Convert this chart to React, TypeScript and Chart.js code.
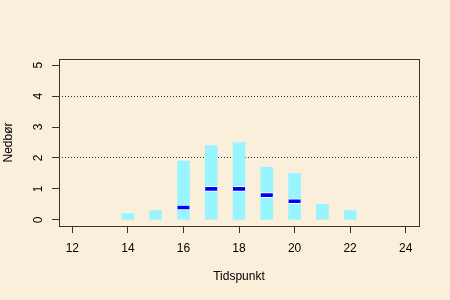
import React, { useEffect, useRef } from "react";
import { Chart, registerables } from "chart.js";

Chart.register(...registerables);

const hours = [14, 15, 16, 17, 18, 19, 20, 21, 22];
const rainfall = [0.2, 0.3, 1.9, 2.4, 2.5, 1.7, 1.5, 0.5, 0.3];
const markerHours = [16, 17, 18, 19, 20];
const markerValues = [0.4, 1.0, 1.0, 0.8, 0.6];
const xTicks = [12, 14, 16, 18, 20, 22, 24];
const yTicks = [0, 1, 2, 3, 4, 5];
const refLines = [2, 4];
const xTitle = "Tidspunkt";
const yTitle = "Nedbør";

const BG = "#FAEFDB";
const BAR = "#98F5FF";
const MARK = "#0000FF";
const FONT = "'Liberation Sans', Arial, sans-serif";

export default function App() {
  const ref = useRef<HTMLCanvasElement | null>(null);

  useEffect(() => {
    document.body.style.margin = "0";
    document.body.style.background = BG;
    const canvas = ref.current;
    if (!canvas) return;

    const bgPlugin = {
      id: "bg",
      beforeDraw(chart: any) {
        const ctx = chart.ctx;
        ctx.save();
        ctx.fillStyle = BG;
        ctx.fillRect(0, 0, chart.width, chart.height);
        ctx.restore();
      },
      afterDraw(chart: any) {
        const { left, right, top, bottom } = chart.chartArea;
        const ctx = chart.ctx;
        ctx.save();
        ctx.strokeStyle = "#333";
        ctx.lineWidth = 1;
        ctx.strokeRect(Math.round(left) + 0.5, Math.round(top) + 0.5, Math.round(right - left), Math.round(bottom - top));
        ctx.restore();
      },
    };

    const chart = new Chart(canvas, {
      type: "bar",
      data: {
        datasets: [
          {
            type: "bar",
            data: markerHours.map((h, i) => ({ x: h, y: [markerValues[i] - 0.08, markerValues[i] + 0.08] })) as any,
            backgroundColor: MARK,
            borderColor: "#FFFFFF",
            borderWidth: { top: 1, bottom: 1, left: 0, right: 0 } as any,
            borderSkipped: false,
            barThickness: 12,
            grouped: false,
            order: 0,
          } as any,
          {
            type: "bar",
            data: hours.map((h, i) => ({ x: h, y: rainfall[i] })) as any,
            backgroundColor: BAR,
            borderWidth: 0,
            barThickness: 12,
            grouped: false,
            order: 1,
          } as any,
        ],
      },
      options: {
        animation: false,
        responsive: false,
        layout: { padding: { top: 59, right: 31, left: 0, bottom: 0 } },
        plugins: { legend: { display: false }, tooltip: { enabled: false } },
        scales: {
          x: {
            type: "linear",
            min: 11.52,
            max: 24.48,
            offset: false,
            afterBuildTicks: (s: any) => {
              s.ticks = xTicks.map((v) => ({ value: v }));
            },
            afterFit: (s: any) => {
              s.height = 74;
            },
            border: { display: false },
            grid: { offset: false, drawOnChartArea: false, tickLength: 7, tickColor: "#333", drawTicks: true },
            ticks: {
              autoSkip: false,
              maxRotation: 0,
              padding: 8,
              color: "#000",
              font: { family: FONT, size: 12 },
            },
            title: {
              display: true,
              text: xTitle,
              color: "#000",
              font: { family: FONT, size: 12 },
              padding: { top: 0, bottom: 16 },
            },
          },
          y: {
            type: "linear",
            min: -0.2,
            max: 5.2,
            afterBuildTicks: (s: any) => {
              s.ticks = yTicks.map((v) => ({ value: v }));
            },
            afterFit: (s: any) => {
              s.width = 59;
            },
            border: { display: false, dash: [1, 2] },
            grid: {
              drawOnChartArea: true,
              tickLength: 7,
              tickColor: "#333",
              color: (c: any) => (c.tick && refLines.includes(c.tick.value) ? "#333" : "rgba(0,0,0,0)"),
              lineWidth: 1,
            } as any,
            ticks: {
              autoSkip: false,
              minRotation: 90,
              maxRotation: 90,
              crossAlign: "center",
              padding: 10,
              color: "#000",
              font: { family: FONT, size: 12 },
            },
            title: {
              display: true,
              text: yTitle,
              color: "#000",
              font: { family: FONT, size: 12 },
              padding: { top: 1.3, bottom: 0 },
            },
          },
        },
      },
      plugins: [bgPlugin],
    } as any);

    return () => chart.destroy();
  }, []);

  return (
    <div style={{ width: 450, height: 300, background: BG }}>
      <canvas ref={ref} width={450} height={300} />
    </div>
  );
}
